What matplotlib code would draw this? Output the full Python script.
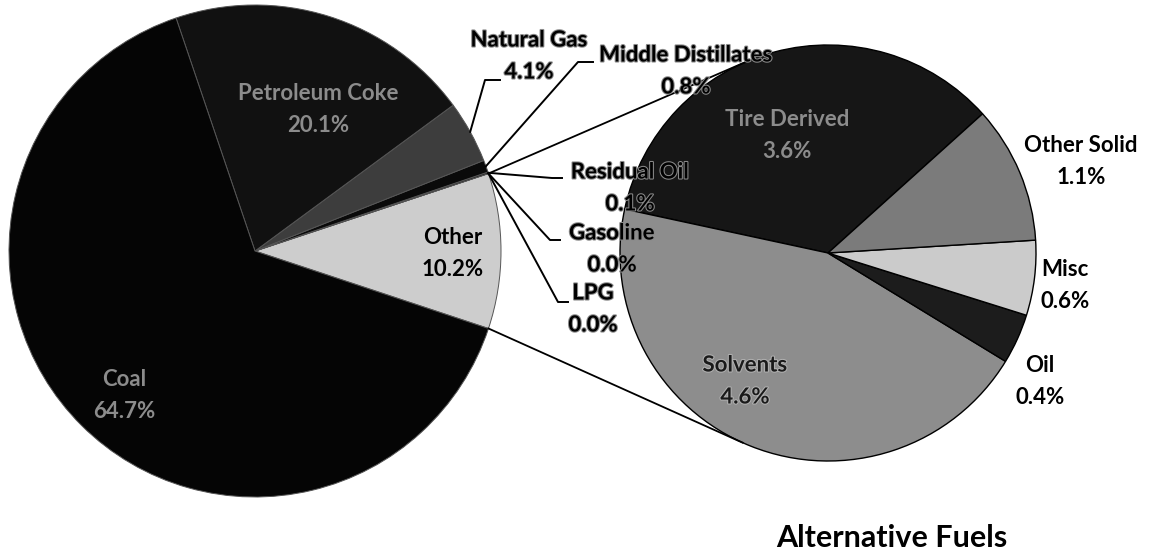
import matplotlib.pyplot as plt
import matplotlib.patheffects as pe
import numpy as np

W, H = 1151, 557

# fuel mix (%), counter-clockwise starting with the "Other" slice
fuels = ["Other", "LPG", "Gasoline", "Residual Oil", "Middle Distillates",
         "Natural Gas", "Petroleum Coke", "Coal"]
fuel_share = [10.2, 0.0, 0.0, 0.1, 0.8, 4.1, 20.1, 64.7]
fuel_colors = ["#cdcdcd", "#0a0a0a", "#0a0a0a", "#0a0a0a", "#0a0a0a",
               "#3d3d3d", "#111111", "#050505"]

# what "Other" is made of (%)
alt_fuels = ["Tire Derived", "Solvents", "Oil", "Misc", "Other Solid"]
alt_share = [3.6, 4.6, 0.4, 0.6, 1.1]
alt_colors = ["#161616", "#8d8d8d", "#1c1c1c", "#cbcbcb", "#7b7b7b"]


def py(y):
    # pixel row (from top) -> data y
    return H - y


plt.rcParams["font.family"] = ["Lato", "DejaVu Sans"]
fig = plt.figure(figsize=(W / 100, H / 100), dpi=100)
ax = fig.add_axes([0, 0, 1, 1])

# main pie, "Other" slice centred on the right
c1, r1 = np.array([255.0, py(251)]), 246.0
w1, _ = ax.pie(fuel_share, colors=fuel_colors, center=c1, radius=r1,
               startangle=-fuel_share[0] / 100 * 180, counterclock=True,
               wedgeprops=dict(edgecolor="#555555", linewidth=0.7))

# secondary pie
c2, r2 = np.array([828.0, py(253)]), 208.0
w2, _ = ax.pie(alt_share, colors=alt_colors, center=c2, radius=r2,
               startangle=42, counterclock=True,
               wedgeprops=dict(edgecolor="black", linewidth=1.0))


def edge_pt(w, frac=0.5):
    a = np.deg2rad(w.theta1 + (w.theta2 - w.theta1) * frac)
    return np.array(w.center) + w.r * np.array([np.cos(a), np.sin(a)])


def tangent(p, c, r, upper):
    d = p - c
    dist = np.hypot(*d)
    base = np.arctan2(d[1], d[0])
    off = np.arccos(r / dist)
    pts = [c + r * np.array([np.cos(a), np.sin(a)]) for a in (base + off, base - off)]
    return max(pts, key=lambda q: q[1]) if upper else min(pts, key=lambda q: q[1])


# connector lines from "Other" to the secondary pie
other = w1[0]
for frac, upper in [(1.0, True), (0.0, False)]:
    p = edge_pt(other, frac)
    q = tangent(p, c2, r2, upper)
    ax.plot([p[0], q[0]], [p[1], q[1]], color="black", lw=1.3, zorder=1)

halo = [pe.withStroke(linewidth=1.5, foreground="#8a8a8a")]
fs = 16


def label(x, y, name, pct, color="black", effects=halo):
    for i, t in enumerate([name, pct]):
        ax.text(x, py(y + 32 * i), t, ha="center", va="center", fontsize=fs,
                fontweight="bold", color=color, path_effects=effects, zorder=5)


# leader lines for the thin slices: elbow and end point of each
leaders = {
    "Natural Gas": ((485, 80), (500, 80)),
    "Middle Distillates": ((578, 62), (593, 62)),
    "Residual Oil": ((552, 178), (562, 178)),
    "Gasoline": ((550, 240), (560, 240)),
    "LPG": ((558, 302), (568, 302)),
}
for name, (elbow, end) in leaders.items():
    p = edge_pt(w1[fuels.index(name)])
    ax.plot([p[0], elbow[0], end[0]], [p[1], py(elbow[1]), py(end[1])],
            color="black", lw=1.4, zorder=4)

fmt = "{:.1f}%"
d = dict(zip(fuels, fuel_share))
label(529, 40, "Natural Gas", fmt.format(d["Natural Gas"]))
label(686, 55, "Middle Distillates", fmt.format(d["Middle Distillates"]))
label(630, 172, "Residual Oil", fmt.format(d["Residual Oil"]))
label(612, 233, "Gasoline", fmt.format(d["Gasoline"]))
label(593, 293, "LPG", fmt.format(d["LPG"]))
label(453, 238, "Other", fmt.format(d["Other"]), effects=None)
label(318, 94, "Petroleum Coke", fmt.format(d["Petroleum Coke"]),
      color="#8c8c8c", effects=None)
label(124, 380, "Coal", fmt.format(d["Coal"]), color="#8c8c8c", effects=None)

a = dict(zip(alt_fuels, alt_share))
label(787, 120, "Tire Derived", fmt.format(a["Tire Derived"]),
      color="#8c8c8c", effects=None)
label(1081, 146, "Other Solid", fmt.format(a["Other Solid"]), effects=None)
label(1065, 270, "Misc", fmt.format(a["Misc"]), effects=None)
label(1040, 365, "Oil", fmt.format(a["Oil"]), effects=None)
label(745, 365, "Solvents", fmt.format(a["Solvents"]),
      color="#1a1a1a", effects=[pe.withStroke(linewidth=1.5, foreground="#b0b0b0")])

ax.text(892, py(538), "Alternative Fuels", ha="center", va="center",
        fontsize=22, fontweight="bold", color="black")

ax.set_xlim(0, W)
ax.set_ylim(0, H)
ax.set_aspect("auto")
ax.axis("off")

fig.savefig("out.png", dpi=100, facecolor="white")
